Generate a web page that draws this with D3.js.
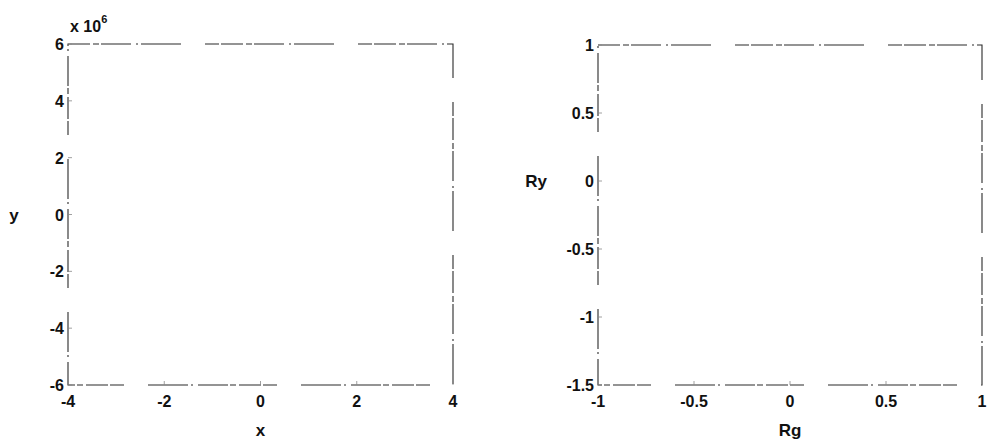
<!DOCTYPE html>
<html>
<head>
<meta charset="utf-8">
<script src="https://cdn.jsdelivr.net/npm/d3@7"></script>
<style>
  body { margin: 0; background: #fff; }
  text { font-family: "Liberation Sans", Arial, sans-serif; font-weight: bold; fill: #111; }
</style>
</head>
<body>
<svg id="chart" width="988" height="444"></svg>
<script>
// left panel
var xDomain = [-4, 4];
var yDomain = [-6, 6];
var xTicks = [-4, -2, 0, 2, 4];
var yTicks = [-6, -4, -2, 0, 2, 4, 6];
// right panel
var rgDomain = [-1, 1];
var ryDomain = [-1.5, 1];
var rgTicks = [-1, -0.5, 0, 0.5, 1];
var ryTicks = [-1.5, -1, -0.5, 0, 0.5, 1];

var svg = d3.select("#chart");

// scanned-looking broken border
var dash = "22,3,6,2,30,5,2,3,40,24,14,2";

function panel(box, xd, yd, xt, yt, xlab, ylab, ylabX) {
  var x = d3.scaleLinear().domain(xd).range([box.l, box.r]);
  var y = d3.scaleLinear().domain(yd).range([box.b, box.t]);
  var g = svg.append("g");

  g.append("rect")
    .attr("x", box.l).attr("y", box.t)
    .attr("width", box.r - box.l).attr("height", box.b - box.t)
    .attr("fill", "none").attr("stroke", "#2a2a2a")
    .attr("stroke-width", 1.1)
    .attr("stroke-dasharray", dash);

  // inward ticks, very faint
  g.selectAll(".xt").data(xt).enter().append("line")
    .attr("x1", d => x(d)).attr("x2", d => x(d))
    .attr("y1", box.b).attr("y2", box.b - 4)
    .attr("stroke", "#888").attr("stroke-width", 0.8);
  g.selectAll(".yt").data(yt).enter().append("line")
    .attr("x1", box.l).attr("x2", box.l + 4)
    .attr("y1", d => y(d)).attr("y2", d => y(d))
    .attr("stroke", "#888").attr("stroke-width", 0.8);

  g.selectAll(".xl").data(xt).enter().append("text")
    .attr("x", d => x(d)).attr("y", box.b + 22)
    .attr("text-anchor", "middle").attr("font-size", 16)
    .text(d => String(d));
  g.selectAll(".yl").data(yt).enter().append("text")
    .attr("x", box.l - 4).attr("y", d => y(d) + 6)
    .attr("text-anchor", "end").attr("font-size", 16)
    .text(d => String(d));

  g.append("text")
    .attr("x", (box.l + box.r) / 2).attr("y", box.b + 51)
    .attr("text-anchor", "middle").attr("font-size", 17)
    .text(xlab);
  g.append("text")
    .attr("x", ylabX).attr("y", y(0) + 6)
    .attr("text-anchor", "middle").attr("font-size", 17)
    .text(ylab);
  return {x: x, y: y};
}

panel({l: 68, r: 453, t: 44, b: 385}, xDomain, yDomain, xTicks, yTicks, "x", "y", 14);
panel({l: 598, r: 982, t: 45, b: 385}, rgDomain, ryDomain, rgTicks, ryTicks, "Rg", "Ry", 536);

// exponent label
var ex = svg.append("text").attr("x", 70).attr("y", 32).attr("font-size", 16);
ex.append("tspan").text("x 10");
ex.append("tspan").attr("dy", -9).attr("font-size", 11).text("6");
</script>
</body>
</html>
